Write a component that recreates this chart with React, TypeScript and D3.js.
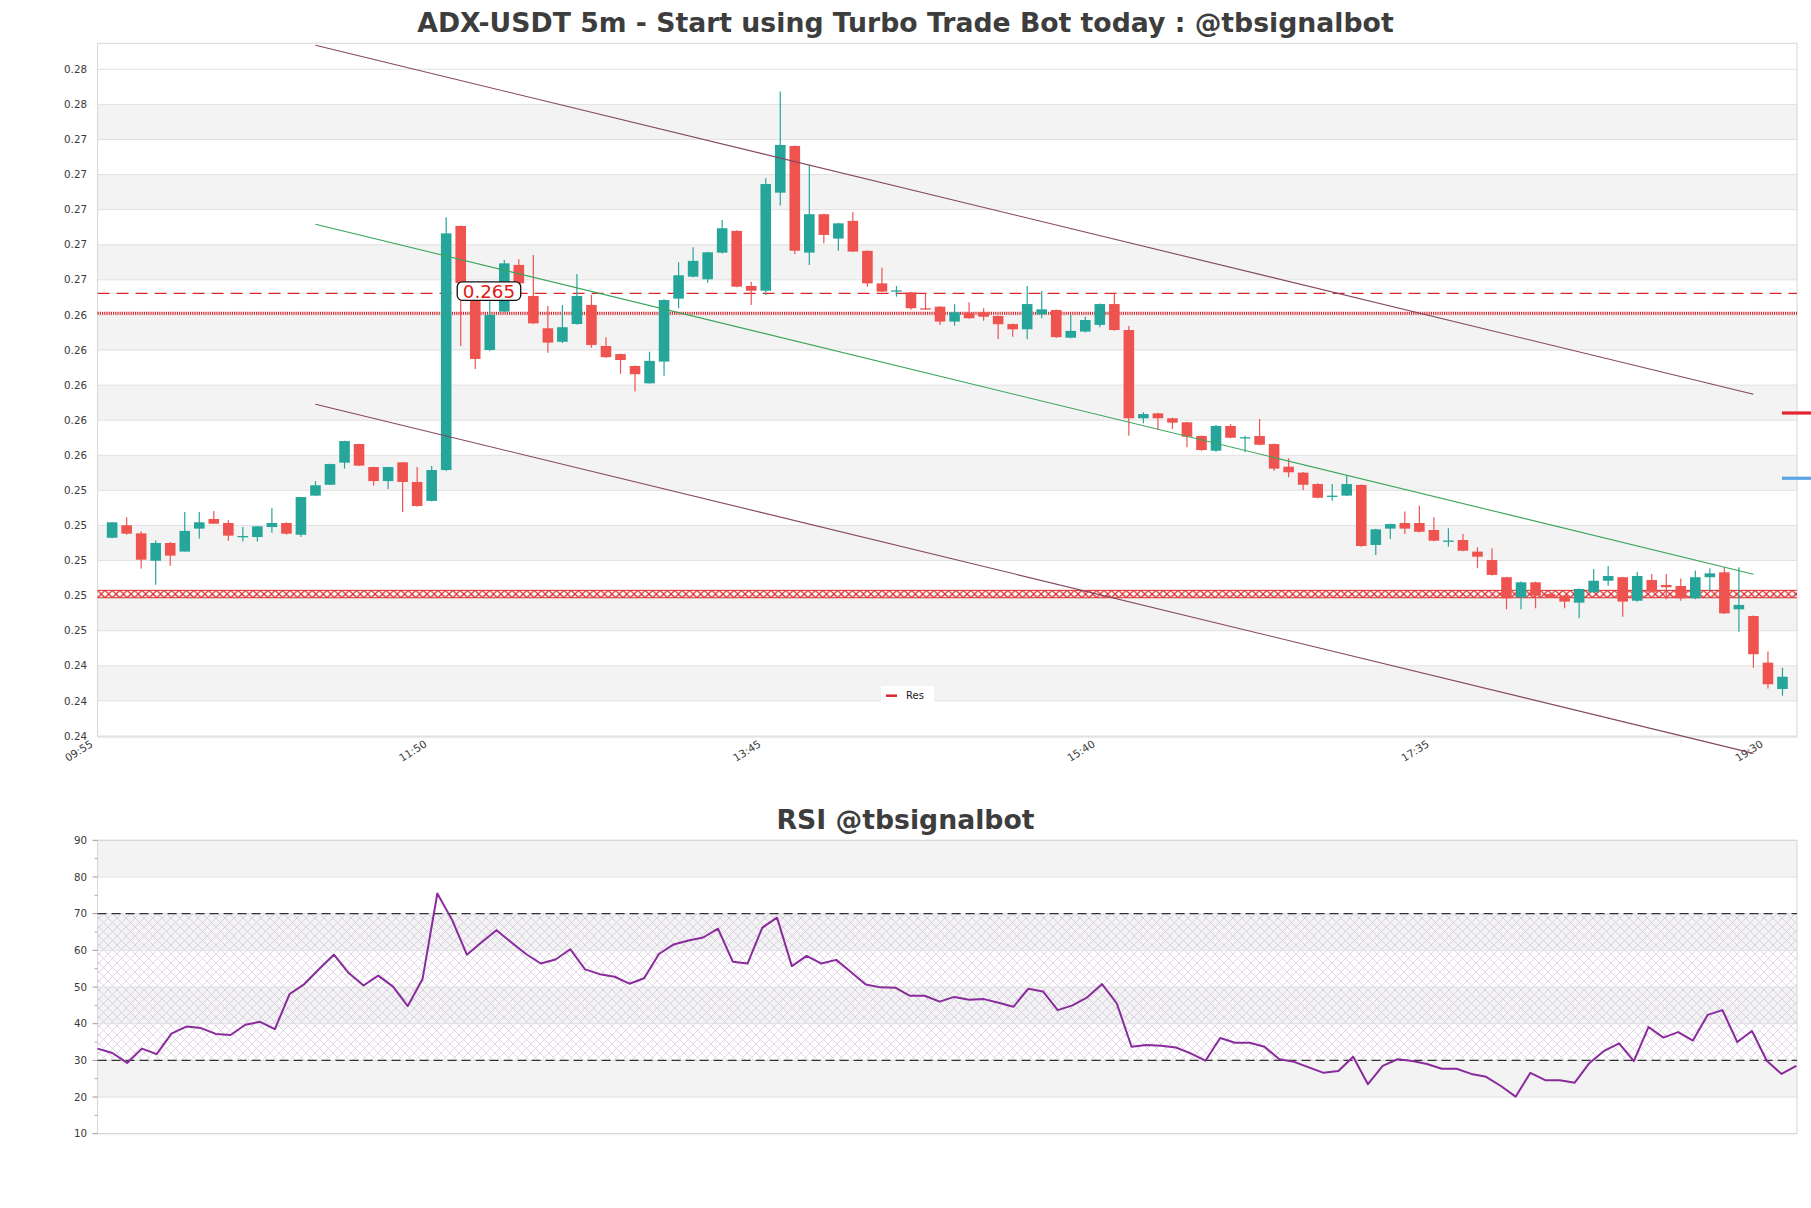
import React from 'react';
import * as d3 from 'd3';

// ---------- DATA ----------
const opens = [
  0.2513, 0.25201, 0.25155, 0.24999, 0.251, 0.25051, 0.25182, 0.25237, 0.25214, 0.25135,
  0.25134, 0.25191, 0.25214, 0.25147, 0.2537, 0.25432, 0.25558, 0.25664, 0.25533, 0.25453,
  0.2556, 0.25448, 0.2534, 0.25516, 0.26907, 0.26485, 0.262, 0.26419, 0.26685, 0.26508,
  0.26324, 0.26247, 0.26348, 0.26457, 0.26223, 0.26177, 0.26109, 0.2601, 0.26134, 0.26493,
  0.26618, 0.26603, 0.26755, 0.26879, 0.26565, 0.26538, 0.27097, 0.27363, 0.26755, 0.26974,
  0.26835, 0.26936, 0.26765, 0.2658, 0.26535, 0.26529, 0.26438, 0.26447, 0.26362, 0.26413,
  0.26415, 0.26394, 0.26348, 0.26318, 0.26404, 0.26428, 0.2627, 0.26305, 0.26343, 0.26462,
  0.26314, 0.25811, 0.25839, 0.25811, 0.25788, 0.2571, 0.25626, 0.25767, 0.257, 0.2571,
  0.25664, 0.25535, 0.25501, 0.25436, 0.25365, 0.2537, 0.25431, 0.25089, 0.25182, 0.25214,
  0.25214, 0.25174, 0.2511, 0.25117, 0.25051, 0.25003, 0.24905, 0.2479, 0.24876, 0.24809,
  0.248, 0.2476, 0.24819, 0.24885, 0.24905, 0.24771, 0.24889, 0.24861, 0.24855, 0.24785,
  0.24905, 0.24933, 0.24722, 0.24684, 0.24418, 0.24268,
];
const highs = [
  0.2522, 0.25247, 0.25167, 0.25115, 0.25106, 0.25277, 0.25277, 0.25283, 0.2523, 0.25191,
  0.25197, 0.253, 0.25218, 0.25362, 0.25453, 0.25552, 0.25683, 0.25666, 0.25535, 0.25535,
  0.25562, 0.25533, 0.25539, 0.26957, 0.2691, 0.2649, 0.26485, 0.26713, 0.26717, 0.26742,
  0.26451, 0.26457, 0.26633, 0.26514, 0.26273, 0.2618, 0.26112, 0.2619, 0.2649, 0.267,
  0.26786, 0.2676, 0.26941, 0.26882, 0.26589, 0.27179, 0.27673, 0.27366, 0.27255, 0.26977,
  0.26925, 0.26985, 0.26768, 0.26669, 0.26565, 0.26532, 0.26523, 0.2645, 0.26462, 0.26472,
  0.26438, 0.26397, 0.26351, 0.26565, 0.26537, 0.26431, 0.264, 0.2639, 0.26465, 0.26523,
  0.26337, 0.25845, 0.25842, 0.25814, 0.25791, 0.25713, 0.25773, 0.25778, 0.25712, 0.25807,
  0.25667, 0.25583, 0.25505, 0.2544, 0.25436, 0.25488, 0.25434, 0.25181, 0.25211, 0.25279,
  0.25313, 0.25247, 0.25184, 0.25151, 0.25076, 0.2507, 0.24908, 0.2488, 0.2488, 0.24812,
  0.24803, 0.24841, 0.24952, 0.24969, 0.24908, 0.24936, 0.24923, 0.24923, 0.24898, 0.24943,
  0.24956, 0.24962, 0.24962, 0.24687, 0.24481, 0.24389,
];
const lows = [
  0.25127, 0.25147, 0.24954, 0.24862, 0.24971, 0.25051, 0.25125, 0.2521, 0.25113, 0.25108,
  0.25108, 0.25159, 0.25147, 0.25134, 0.25368, 0.2543, 0.25524, 0.25539, 0.25427, 0.25408,
  0.25277, 0.25307, 0.25337, 0.2551, 0.26223, 0.26092, 0.26195, 0.26415, 0.26575, 0.26348,
  0.26185, 0.2624, 0.26345, 0.26213, 0.26155, 0.26065, 0.25963, 0.26008, 0.26054, 0.26438,
  0.26615, 0.26584, 0.2675, 0.26558, 0.26457, 0.26514, 0.27023, 0.26747, 0.26685, 0.26808,
  0.26766, 0.26758, 0.26561, 0.2653, 0.26504, 0.2643, 0.26428, 0.26343, 0.26339, 0.26378,
  0.26367, 0.26261, 0.26276, 0.26261, 0.26381, 0.2627, 0.26267, 0.263, 0.2633, 0.2631,
  0.25712, 0.25782, 0.25744, 0.2575, 0.25646, 0.25625, 0.2562, 0.25697, 0.25617, 0.25657,
  0.25512, 0.25475, 0.25402, 0.25355, 0.25341, 0.25368, 0.25079, 0.25032, 0.25123, 0.25151,
  0.2516, 0.2511, 0.25079, 0.25053, 0.24956, 0.24915, 0.24722, 0.24722, 0.24728, 0.24787,
  0.24728, 0.24671, 0.24815, 0.24857, 0.2468, 0.24765, 0.24818, 0.24779, 0.24771, 0.2478,
  0.24828, 0.24695, 0.24594, 0.24389, 0.24271, 0.2423,
];
const closes = [
  0.25218, 0.25153, 0.25005, 0.251, 0.25028, 0.25169, 0.25218, 0.2521, 0.25142, 0.2514,
  0.25195, 0.25214, 0.25153, 0.25362, 0.25429, 0.2555, 0.25681, 0.25541, 0.25453, 0.25533,
  0.25448, 0.25311, 0.25516, 0.26865, 0.26582, 0.26149, 0.264, 0.26694, 0.2658, 0.26352,
  0.26242, 0.2633, 0.26508, 0.26229, 0.26159, 0.26143, 0.26062, 0.26138, 0.26485, 0.26626,
  0.26708, 0.26757, 0.26894, 0.26561, 0.26538, 0.27146, 0.27369, 0.26766, 0.26974, 0.26856,
  0.26922, 0.26761, 0.2658, 0.26533, 0.2654, 0.26438, 0.26432, 0.26362, 0.26415, 0.26381,
  0.2639, 0.26347, 0.26318, 0.26462, 0.26432, 0.26273, 0.26309, 0.26371, 0.26462, 0.26314,
  0.25811, 0.25835, 0.25811, 0.25786, 0.25706, 0.2563, 0.25767, 0.257, 0.25703, 0.2566,
  0.25524, 0.25503, 0.25432, 0.25358, 0.2537, 0.25436, 0.25083, 0.25178, 0.25208, 0.25182,
  0.25164, 0.25113, 0.25114, 0.25056, 0.25022, 0.24918, 0.24785, 0.24876, 0.248, 0.2479,
  0.24766, 0.24838, 0.24885, 0.24912, 0.24766, 0.24912, 0.24822, 0.24848, 0.24785, 0.24905,
  0.24927, 0.24699, 0.24747, 0.24466, 0.24295, 0.24338,
];
const rsiValues = [
  33.2, 32.0, 29.3, 33.2, 31.7, 37.3, 39.2, 38.8, 37.2, 36.9,
  39.7, 40.5, 38.5, 48.1, 50.8, 54.9, 58.8, 53.8, 50.4, 53.1,
  50.1, 44.8, 52.2, 75.5, 68.3, 58.8, 62.2, 65.5, 62.2, 59.0,
  56.4, 57.5, 60.3, 54.8, 53.5, 52.8, 50.9, 52.4, 59.0, 61.6,
  62.7, 63.5, 65.9, 56.9, 56.4, 66.2, 68.9, 55.7, 58.5, 56.4,
  57.4, 54.1, 50.7, 49.9, 49.8, 47.6, 47.6, 46.0, 47.3, 46.5,
  46.7, 45.7, 44.6, 49.5, 48.8, 43.7, 45.0, 47.2, 50.8, 45.5,
  33.7, 34.2, 34.0, 33.5, 31.9, 29.9, 36.1, 34.8, 34.8, 33.7,
  30.3, 29.6, 28.1, 26.6, 27.1, 31.0, 23.5, 28.5, 30.3, 29.8,
  29.0, 27.7, 27.7, 26.3, 25.5, 23.0, 20.1, 26.6, 24.6, 24.6,
  23.9, 29.3, 32.6, 34.6, 29.8, 39.1, 36.2, 37.7, 35.4, 42.4,
  43.7, 35.0, 38.0, 29.9, 26.3, 28.5,
];

const xTickLabels = ['09:55', '11:50', '13:45', '15:40', '17:35', '19:30'];
const xTickSlots = [-1, 22, 45, 68, 91, 114];
const yTicks = [
  0.24, 0.242, 0.244, 0.246, 0.248, 0.25, 0.252, 0.254, 0.256, 0.258,
  0.26, 0.262, 0.264, 0.266, 0.268, 0.27, 0.272, 0.274, 0.276, 0.278,
];
const channelSlots = [14, 113];
const upperChannel = [0.27937, 0.25948];
const midChannel = [0.26917, 0.24922];
const lowerChannel = [0.25891, 0.23901];
const dashedLevel = 0.26523;
const dottedLevel = 0.26409;
const resLevel = 0.24809;
const priceLabel = '0.265';
const priceLabelSlot = 24;
const markerLevels = [0.25841, 0.25469];
const markerColors = ['#e3232c', '#5aa5e6'];
const rsiTicks = [10, 20, 30, 40, 50, 60, 70, 80, 90];
const rsiMinorTicks = [15, 25, 35, 45, 55, 65, 75, 85];
const rsiLevels = [70, 30];

// ---------- LAYOUT ----------
const W = 1811;
const H = 1208;
const L = 97.6;
const R = 1797;
const mTop = 43.3;
const mBot = 737;
const rTop = 840.3;
const rBot = 1133.7;
const FONT = 'DejaVu Sans, sans-serif';
const UP = '#26a69a';
const DOWN = '#ef5350';

export default function App() {
  const x = d3.scaleLinear().domain([-1, 116]).range([L, R]);
  const y = d3.scaleLinear().domain([0.24, 0.278]).range([736, 69.3]);
  const xr = d3.scaleLinear().domain([0, rsiValues.length - 1]).range([L, 1796.3]);
  const yr = d3.scaleLinear().domain([10, 90]).range([rBot, rTop]);
  const bw = 10.6;

  const rsiLine = d3
    .line<number>()
    .x((_, i) => xr(i))
    .y((d) => yr(d))(rsiValues) as string;

  const bands = yTicks.slice(0, -1).map((t, j) => ({ lo: t, hi: yTicks[j + 1], gray: j % 2 === 1 }));
  const rsiBands = rsiTicks.slice(0, -1).map((t, j) => ({ lo: t, hi: rsiTicks[j + 1], gray: j % 2 === 1 }));

  const labelX = x(priceLabelSlot) - 3.5;
  const labelY = y(dashedLevel);
  const resY = y(resLevel);

  return (
    <div style={{ position: 'absolute', left: 0, top: 0, width: W, height: H, background: '#fff' }}>
      <svg width={W} height={H} style={{ display: 'block' }}>
        <defs>
          <pattern id="resHatch" patternUnits="userSpaceOnUse" width="7.4" height="7.4" x={L} y={resY - 3.7}>
            <line x1="0" y1="0" x2="7.4" y2="7.4" stroke="#e02a2a" strokeWidth="1.2" />
            <line x1="7.4" y1="0" x2="0" y2="7.4" stroke="#e02a2a" strokeWidth="1.2" />
          </pattern>
          <pattern id="rsiHatch" patternUnits="userSpaceOnUse" width="9" height="9">
            <line x1="0" y1="0" x2="9" y2="9" stroke="#c8b4d2" strokeWidth="0.7" />
            <line x1="9" y1="0" x2="0" y2="9" stroke="#c8b4d2" strokeWidth="0.7" />
          </pattern>
        </defs>
        <rect x={0} y={0} width={W} height={H} fill="#fff" />

        {/* Title */}
        <text x={W / 2} y={32} textAnchor="middle" fontFamily={FONT} fontWeight="bold" fontSize={26.7} fill="#3d3d3d">
          ADX-USDT 5m - Start using Turbo Trade Bot today : @tbsignalbot
        </text>

        {/* Main panel background bands */}
        {bands.map((b, i) =>
          b.gray ? (
            <rect key={'b' + i} x={L} width={R - L} y={y(b.hi)} height={y(b.lo) - y(b.hi)} fill="#f3f3f3" />
          ) : null
        )}
        {yTicks.map((t, i) => (
          <line key={'g' + i} x1={L} x2={R} y1={y(t)} y2={y(t)} stroke="#e1e1e1" strokeWidth={1} />
        ))}
        <rect x={L} y={mTop} width={R - L} height={mBot - mTop} fill="none" stroke="#d6d6d6" strokeWidth={1} />

        {/* y labels */}
        {yTicks.map((t, i) => (
          <text key={'yl' + i} x={87} y={y(t) + 3.6} textAnchor="end" fontFamily={FONT} fontSize={10.3} fill="#3a3a3a">
            {d3.format('.2f')(t)}
          </text>
        ))}
        {/* x labels */}
        {xTickSlots.map((s, i) => (
          <text
            key={'xl' + i}
            transform={`translate(${x(s) - 4},${746}) rotate(-32)`}
            textAnchor="end"
            fontFamily={FONT}
            fontSize={10.5}
            fill="#3a3a3a"
          >
            {xTickLabels[i]}
          </text>
        ))}

        {/* Res hatched level */}
        <rect x={L} width={R - L} y={resY - 3.7} height={7.4} fill="url(#resHatch)" />
        <line x1={L} x2={R} y1={resY - 3.7} y2={resY - 3.7} stroke="#e02a2a" strokeWidth={1} />
        <line x1={L} x2={R} y1={resY + 3.7} y2={resY + 3.7} stroke="#e02a2a" strokeWidth={1} />

        {/* dashed & dotted levels */}
        <line x1={L} x2={R} y1={y(dashedLevel)} y2={y(dashedLevel)} stroke="#d8262c" strokeWidth={1.4} strokeDasharray="12 7" />
        <line x1={L} x2={R} y1={y(dottedLevel)} y2={y(dottedLevel)} stroke="#d8262c" strokeWidth={3} strokeDasharray="1.2 1" />

        {/* Candles */}
        {opens.map((o, i) => {
          const c = closes[i];
          const col = c >= o ? UP : DOWN;
          const cx = x(i);
          const top = y(Math.max(o, c));
          const bot = y(Math.min(o, c));
          return (
            <g key={'c' + i}>
              <line x1={cx} x2={cx} y1={y(highs[i])} y2={y(lows[i])} stroke={col} strokeWidth={1.2} />
              <rect x={cx - bw / 2} y={top} width={bw} height={Math.max(1.3, bot - top)} fill={col} />
            </g>
          );
        })}

        {/* Channel lines */}
        <line x1={x(channelSlots[0])} x2={x(channelSlots[1])} y1={y(upperChannel[0])} y2={y(upperChannel[1])} stroke="#84465f" strokeWidth={1.1} />
        <line x1={x(channelSlots[0])} x2={x(channelSlots[1])} y1={y(midChannel[0])} y2={y(midChannel[1])} stroke="#3aa55a" strokeWidth={1.1} />
        <line x1={x(channelSlots[0])} x2={x(channelSlots[1])} y1={y(lowerChannel[0])} y2={y(lowerChannel[1])} stroke="#84465f" strokeWidth={1.1} />

        {/* price label */}
        <rect x={labelX} y={labelY - 11.5} width={63.5} height={18.5} rx={5} ry={5} fill="#fff" stroke="#111" strokeWidth={1.3} />
        <text x={labelX + 31.75} y={labelY + 4.8} textAnchor="middle" fontFamily={FONT} fontSize={18.3} fill="#e01818">
          {priceLabel}
        </text>

        {/* right markers */}
        {markerLevels.map((v, i) => (
          <line key={'mk' + i} x1={1782} x2={1811} y1={y(v)} y2={y(v)} stroke={markerColors[i]} strokeWidth={3.2} />
        ))}

        {/* legend */}
        <rect x={881} y={686} width={53} height={17} fill="#fff" />
        <line x1={886} x2={897} y1={695.7} y2={695.7} stroke="#d8262c" strokeWidth={2.5} />
        <text x={906} y={699} fontFamily={FONT} fontSize={10} fill="#222">
          Res
        </text>

        {/* RSI title */}
        <text x={W / 2} y={829} textAnchor="middle" fontFamily={FONT} fontWeight="bold" fontSize={26.7} fill="#3d3d3d">
          RSI @tbsignalbot
        </text>

        {/* RSI bands */}
        {rsiBands.map((b, i) =>
          b.gray ? (
            <rect key={'rb' + i} x={L} width={R - L} y={yr(b.hi)} height={yr(b.lo) - yr(b.hi)} fill="#f3f3f3" />
          ) : null
        )}
        <rect x={L} width={R - L} y={yr(rsiLevels[0])} height={yr(rsiLevels[1]) - yr(rsiLevels[0])} fill="url(#rsiHatch)" opacity={0.8} />
        {rsiTicks.map((t, i) => (
          <line key={'rg' + i} x1={L} x2={R} y1={yr(t)} y2={yr(t)} stroke="#e0e0e0" strokeWidth={1} />
        ))}
        <rect x={L} y={rTop} width={R - L} height={rBot - rTop} fill="none" stroke="#d6d6d6" strokeWidth={1} />
        {rsiTicks.map((t, i) => (
          <g key={'rt' + i}>
            <line x1={L - 5} x2={L} y1={yr(t)} y2={yr(t)} stroke="#999" strokeWidth={1} />
            <text x={87} y={yr(t) + 3.6} textAnchor="end" fontFamily={FONT} fontSize={10.3} fill="#3a3a3a">
              {t}
            </text>
          </g>
        ))}
        {rsiMinorTicks.map((t, i) => (
          <line key={'rm' + i} x1={L - 3} x2={L} y1={yr(t)} y2={yr(t)} stroke="#aaa" strokeWidth={1} />
        ))}
        {rsiLevels.map((v, i) => (
          <line key={'rl' + i} x1={L} x2={R} y1={yr(v)} y2={yr(v)} stroke="#333" strokeWidth={1.3} strokeDasharray="9 5" />
        ))}
        <path d={rsiLine} fill="none" stroke="#8a2b9c" strokeWidth={2} strokeLinejoin="round" />
      </svg>
    </div>
  );
}
